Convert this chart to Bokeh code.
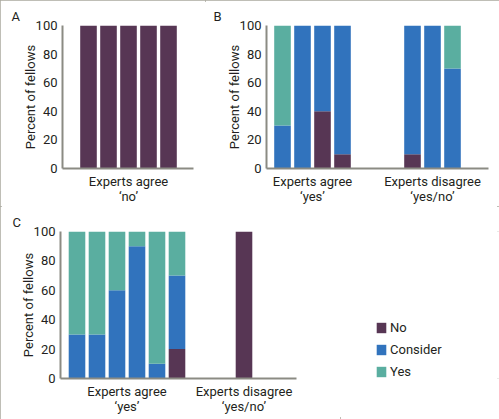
from bokeh.plotting import figure
from bokeh.layouts import row, column
from bokeh.models import FixedTicker, Range1d, Title, Legend, LegendItem
from bokeh.embed import file_html
from bokeh.resources import INLINE

# ---------------- data ----------------
STAGES = ["No", "Consider", "Yes"]
Y_TICKS = [0, 20, 40, 60, 80, 100]
Y_LABEL = "Percent of fellows"

A_GROUPS = ["Experts agree\n\u2018no\u2019"] * 5
A_NO = [100, 100, 100, 100, 100]
A_CONSIDER = [0, 0, 0, 0, 0]
A_YES = [0, 0, 0, 0, 0]

B_GROUPS = ["Experts agree\n\u2018yes\u2019"] * 4 + ["Experts disagree\n\u2018yes/no\u2019"] * 3
B_NO = [0, 0, 40, 10, 10, 0, 0]
B_CONSIDER = [30, 100, 60, 90, 90, 100, 70]
B_YES = [70, 0, 0, 0, 0, 0, 30]

C_GROUPS = ["Experts agree\n\u2018yes\u2019"] * 6 + ["Experts disagree\n\u2018yes/no\u2019"]
C_NO = [0, 0, 0, 0, 0, 20, 100]
C_CONSIDER = [30, 30, 60, 90, 10, 50, 0]
C_YES = [70, 70, 40, 10, 90, 30, 0]

# ---------------- style ----------------
COLORS = ["#573654", "#3173bd", "#5aaea0"]
AXIS_COLOR = "#8b8b83"
BORDER_COLOR = "#aaa99e"
TEXT_COLOR = "#231f20"
FONT = "Roboto"
FS = "13px"


def panel(letter, groups, no, consider, yes, width, height, borders, gap, x_pad, letter_off):
    left, right, top, bottom = borders
    xs = []
    gi = 0
    prev = None
    for i, g in enumerate(groups):
        if prev is not None and g != prev:
            gi += 1
        prev = g
        xs.append(i + 1 + gap * gi)
    frame_w = width - left - right
    pitch_px = 20.0
    start = xs[0] - x_pad
    end = start + frame_w / pitch_px
    p = figure(width=width, height=height, output_backend="svg", toolbar_location=None,
               x_range=Range1d(start, end), y_range=Range1d(0, 100),
               min_border_left=left, min_border_right=right,
               min_border_top=top, min_border_bottom=bottom)
    data = dict(x=xs, No=no, Consider=consider, Yes=yes)
    p.vbar_stack(STAGES, x="x", width=0.83, color=COLORS, line_color=None, source=data)

    centers = {}
    for x, g in zip(xs, groups):
        centers.setdefault(g, []).append(x)
    ticks = [sum(v) / len(v) for v in centers.values()]
    labels = {t: g for t, g in zip(ticks, centers.keys())}

    p.xaxis.ticker = FixedTicker(ticks=ticks)
    p.xaxis.major_label_overrides = labels
    p.yaxis.ticker = FixedTicker(ticks=Y_TICKS)
    p.yaxis.axis_label = Y_LABEL
    for ax in (p.xaxis, p.yaxis):
        ax.axis_line_color = AXIS_COLOR
        ax.axis_line_width = 2
        ax.major_tick_line_color = None
        ax.minor_tick_line_color = None
        ax.major_tick_out = 0
        ax.major_tick_in = 0
        ax.minor_tick_out = 0
        ax.minor_tick_in = 0
        ax.major_label_text_font = FONT
        ax.major_label_text_font_size = FS
        ax.major_label_text_color = TEXT_COLOR
        ax.axis_label_text_font = FONT
        ax.axis_label_text_font_size = FS
        ax.axis_label_text_font_style = "normal"
        ax.axis_label_text_color = TEXT_COLOR
    p.xaxis.major_label_standoff = 5
    p.xaxis.major_label_text_line_height = 1.0
    p.yaxis.major_label_standoff = 5
    p.yaxis.axis_label_standoff = -5
    p.xgrid.visible = False
    p.ygrid.visible = False
    p.outline_line_color = None
    p.add_layout(Title(text=letter, align="left", offset=letter_off, standoff=4,
                       text_font=FONT, text_font_size=FS, text_font_style="normal",
                       text_color=TEXT_COLOR), "above")
    return p


pA = panel("A", A_GROUPS, A_NO, A_CONSIDER, A_YES, 205, 206, (62, 12, 25, 34), 0, 1.3, -51)
pB = panel("B", B_GROUPS, B_NO, B_CONSIDER, B_YES, 294, 206, (61, 11, 25, 34), 2.5, 0.8, -53)
pC = panel("C", C_GROUPS, C_NO, C_CONSIDER, C_YES, 340, 213, (60, 44, 25, 41), 2.35, 0.825, -48)

# legend panel
pL = figure(width=159, height=213, output_backend="svg", toolbar_location=None,
            x_range=Range1d(0, 1), y_range=Range1d(0, 1), x_axis_type=None, y_axis_type=None,
            min_border_left=0, min_border_top=25, min_border_right=0, min_border_bottom=41)
pL.outline_line_color = None
pL.xgrid.visible = False
pL.ygrid.visible = False
items = []
for s, c in zip(STAGES, COLORS):
    # zero-height placeholder bar: only its legend swatch is seen
    r = pL.vbar(x=[0.5], top=[0], bottom=[0], width=0.1, color=c, line_color=None)
    items.append(LegendItem(label=s, renderers=[r]))
leg = Legend(items=items, location=(35, -1), glyph_width=12, glyph_height=13,
             label_height=13, label_standoff=3, spacing=7, padding=0, margin=0,
             border_line_color=None, background_fill_alpha=0,
             label_text_font=FONT, label_text_font_size=FS, label_text_color=TEXT_COLOR)
pL.add_layout(leg)

layout = column(row(pA, pB), row(pC, pL),
                styles={"outline": "2px solid " + BORDER_COLOR, "outline-offset": "-2px"})
open("out.html", "w").write(file_html(layout, INLINE))
